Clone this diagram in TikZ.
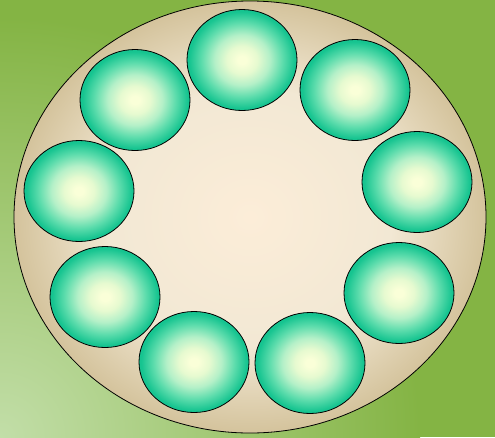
\documentclass[tikz,border=0pt]{standalone}
\usetikzlibrary{shapes.geometric}
\definecolor{bgGreen}{HTML}{84B444}
\definecolor{bgLight}{HTML}{C2DEA8}
\definecolor{bigIn}{HTML}{FCEDD8}
\definecolor{bigMid}{HTML}{F2E8D4}
\definecolor{bigOut}{HTML}{D4C39C}
\definecolor{smIn}{HTML}{FAFFD8}
\definecolor{smA}{HTML}{E6FAD0}
\definecolor{smB}{HTML}{B4F0C8}
\definecolor{smC}{HTML}{5CDCAC}
\definecolor{smOut}{HTML}{16C490}
\pgfdeclareradialshading{bgshade}{\pgfpoint{0bp}{0bp}}{color(0bp)=(bgLight); color(25bp)=(bgGreen); color(50bp)=(bgGreen)}
\pgfdeclareradialshading{bigshade}{\pgfpoint{0bp}{0bp}}{color(0bp)=(bigIn); color(15bp)=(bigMid); color(25bp)=(bigOut); color(50bp)=(bigOut)}
\pgfdeclareradialshading{smshade}{\pgfpoint{0bp}{0bp}}{color(0bp)=(smIn); color(2bp)=(smIn); color(7bp)=(smA); color(12.5bp)=(smB); color(18.5bp)=(smC); color(24bp)=(smOut); color(50bp)=(smOut)}
\tikzset{
  bigring/.style={ellipse, draw=black, line width=0.8pt, shading=bigshade, minimum width=472pt, minimum height=432pt, inner sep=0pt},
  ball/.style={ellipse, draw=black, line width=0.8pt, shading=smshade, minimum width=110pt, minimum height=101pt, inner sep=0pt}
}
\begin{document}
\begin{tikzpicture}[x=1pt,y=-1pt]
\useasboundingbox (0,0) rectangle (495,437);
\fill[bgGreen] (0,0) rectangle (495,437);
\begin{scope}
\clip (0,0) rectangle (495,437);
\shade[shading=bgshade] (0,437) circle [radius=420];
\end{scope}
\node[bigring] (ring) at (250,217) {};
\node[ball] (b1) at (242,60) {};
\node[ball] (b2) at (355,90) {};
\node[ball] (b3) at (417,182) {};
\node[ball] (b4) at (399,293) {};
\node[ball] (b5) at (310,363) {};
\node[ball] (b6) at (194,362) {};
\node[ball] (b7) at (105,297) {};
\node[ball] (b8) at (79,191) {};
\node[ball] (b9) at (135,100) {};
\end{tikzpicture}
\end{document}
